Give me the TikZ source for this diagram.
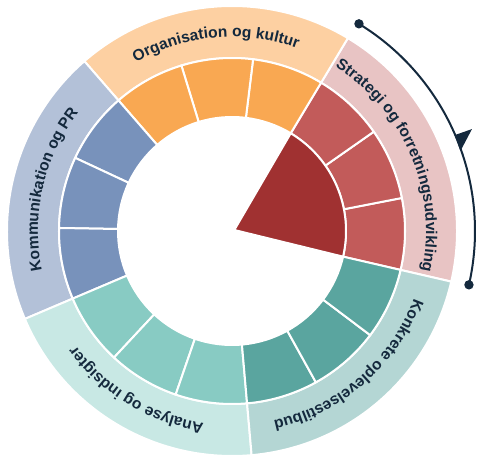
\documentclass[tikz,border=0pt]{standalone}
\usepackage{fontspec}
\setmainfont{Liberation Sans}
\newfontfamily\labelfont{Liberation Sans}
\usetikzlibrary{decorations.text,decorations.markings,arrows.meta}

\definecolor{navy}{HTML}{14293D}
\definecolor{stratLight}{HTML}{E8C4C4}
\definecolor{stratMid}{HTML}{C25B5A}
\definecolor{stratDark}{HTML}{A03131}
\definecolor{orgLight}{HTML}{FDD0A2}
\definecolor{orgMid}{HTML}{F9A852}
\definecolor{komLight}{HTML}{B3C1D8}
\definecolor{komMid}{HTML}{7892BB}
\definecolor{anaLight}{HTML}{C8E8E4}
\definecolor{anaMid}{HTML}{88CBC3}
\definecolor{konLight}{HTML}{B4D6D4}
\definecolor{konMid}{HTML}{5AA59F}

\begin{document}
\begin{tikzpicture}[
    x=1pt, y=1pt,
    sector/.style={draw=white, line width=2pt},
    ringlabel/.style={decorate, decoration={text along path, text align=center, text color=navy}},
    cycle_arrow/.style={navy, line width=2pt, postaction={decorate},
        decoration={markings, mark=at position 0.55 with {\arrow{Triangle[harpoon, length=16pt, width=34pt]}}}},
    dot/.style={fill=navy}
]
\useasboundingbox (0,0) rectangle (480,461);
\coordinate (centre) at (232,230);
\coordinate (tip) at (234.3,231);

\begin{scope}[shift={(centre)}]
% Outer ring - the five themes
\foreach \a/\col in {-13/stratLight, 59/orgLight, 131/komLight, 203/anaLight, 275/konLight} {
    \pgfmathsetmacro\b{\a+72}
    \path[fill=\col, sector] (\a:173) arc[start angle=\a, end angle=\b, radius=173]
        -- (\b:225) arc[start angle=\b, end angle=\a, radius=225] -- cycle;
}

% Inner ring - three steps per theme
\foreach \a/\col in {-13/stratMid, 11/stratMid, 35/stratMid, 59/orgMid, 83/orgMid, 107/orgMid,
        131/komMid, 155/komMid, 179/komMid, 203/anaMid, 227/anaMid, 251/anaMid,
        275/konMid, 299/konMid, 323/konMid} {
    \pgfmathsetmacro\b{\a+24}
    \path[fill=\col, sector] (\a:114) arc[start angle=\a, end angle=\b, radius=114]
        -- (\b:173) arc[start angle=\b, end angle=\a, radius=173] -- cycle;
}

% Highlighted theme
\path[fill=stratDark, sector] (tip) -- (-13:114) arc[start angle=-13, end angle=59, radius=114] -- cycle;

% Theme labels along the outer ring
\path[ringlabel, decoration={text={|\labelfont\bfseries\fontsize{15.6}{18}\selectfont|Strategi og forretningsudvikling}}]
    (59:194) arc[start angle=59, end angle=-13, radius=194];
\path[ringlabel, decoration={text={|\labelfont\bfseries\fontsize{15.6}{18}\selectfont|Organisation og kultur}}]
    (131:194) arc[start angle=131, end angle=59, radius=194];
\path[ringlabel, decoration={text={|\labelfont\bfseries\fontsize{15.6}{18}\selectfont|Kommunikation og PR}}]
    (203:194) arc[start angle=203, end angle=131, radius=194];
\path[ringlabel, decoration={text={|\labelfont\bfseries\fontsize{15.6}{18}\selectfont|Analyse og indsigter}}]
    (275:194) arc[start angle=275, end angle=203, radius=194];
\path[ringlabel, decoration={text={|\labelfont\bfseries\fontsize{15.6}{18}\selectfont|Konkrete oplevelsestilbud}}]
    (347:194) arc[start angle=347, end angle=275, radius=194];

% Cycle arrow round the highlighted theme
\coordinate (arrow_start) at (58.5:243);
\coordinate (arrow_end) at (-12.8:243);
\draw[cycle_arrow] (arrow_start) arc[start angle=58.5, end angle=-12.8, radius=243];
\fill[dot] (arrow_start) circle[radius=4.7];
\fill[dot] (arrow_end) circle[radius=4.7];
\end{scope}

\end{tikzpicture}
\end{document}
